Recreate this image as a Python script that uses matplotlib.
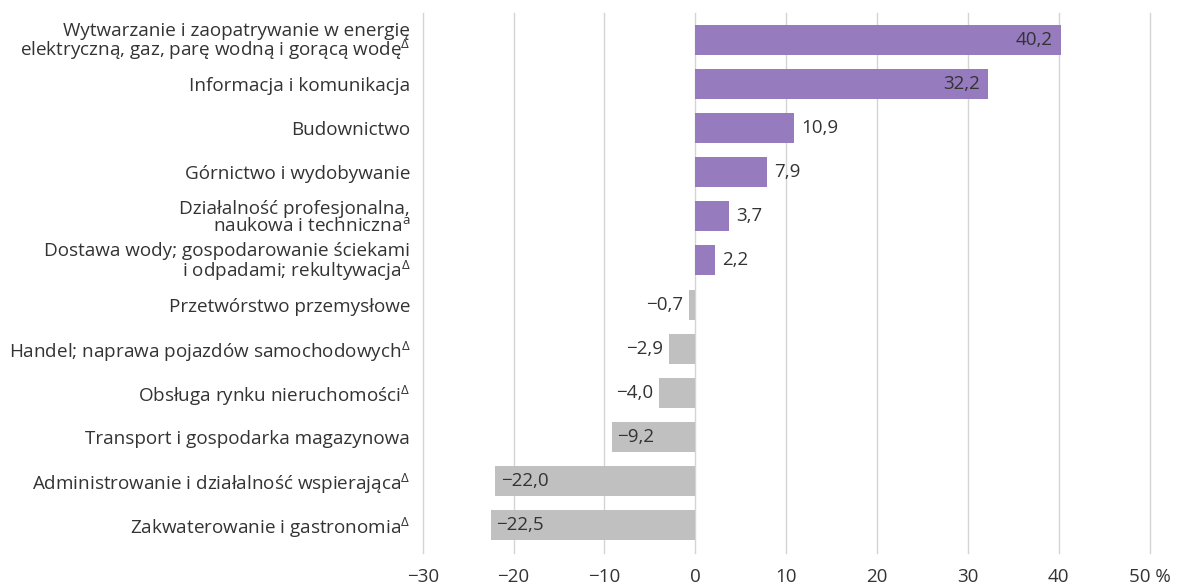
import matplotlib.pyplot as plt
import numpy as np

plt.rcParams['font.family'] = ['Open Sans', 'DejaVu Sans']
plt.rcParams['mathtext.fontset'] = 'custom'
plt.rcParams['mathtext.rm'] = 'Open Sans'
plt.rcParams['mathtext.it'] = 'Open Sans'

categories = [
    'Wytwarzanie i zaopatrywanie w energię\nelektryczną, gaz, parę wodną i gorącą wodę$^{\\Delta}$',
    'Informacja i komunikacja',
    'Budownictwo',
    'Górnictwo i wydobywanie',
    'Działalność profesjonalna,\nnaukowa i techniczna$^{\\mathrm{a}}$',
    'Dostawa wody; gospodarowanie ściekami\ni odpadami; rekultywacja$^{\\Delta}$',
    'Przetwórstwo przemysłowe',
    'Handel; naprawa pojazdów samochodowych$^{\\Delta}$',
    'Obsługa rynku nieruchomości$^{\\Delta}$',
    'Transport i gospodarka magazynowa',
    'Administrowanie i działalność wspierająca$^{\\Delta}$',
    'Zakwaterowanie i gastronomia$^{\\Delta}$',
]
values = [40.2, 32.2, 10.9, 7.9, 3.7, 2.2, -0.7, -2.9, -4.0, -9.2, -22.0, -22.5]
x_ticks = [-30, -20, -10, 0, 10, 20, 30, 40, 50]
x_tick_labels = ['−30', '−20', '−10', '0', '10', '20', '30', '40', '50 %']

purple = '#967bbf'
gray = '#c0c0c0'
text_color = '#333333'

fig = plt.figure(figsize=(11.84, 5.87), dpi=100)
ax = fig.add_axes([0.357, 0.058, 0.614, 0.920])

y = np.arange(len(values))
colors = [purple if v > 0 else gray for v in values]
ax.barh(y, values, height=0.68, color=colors, zorder=2)

# value labels: inside for long bars, outside for short ones
for yi, v in zip(y, values):
    label = f'{abs(v):.1f}'.replace('.', ',')
    if v < 0:
        label = '−' + label
    if v > 25:
        ax.text(v - 0.9, yi, label, ha='right', va='center', fontsize=13.5, color=text_color, zorder=3)
    elif v > 0:
        ax.text(v + 0.8, yi, label, ha='left', va='center', fontsize=13.5, color=text_color, zorder=3)
    elif v < -8:
        ax.text(v + 0.6, yi, label, ha='left', va='center', fontsize=13.5, color=text_color, zorder=3)
    else:
        ax.text(v - 0.6, yi, label, ha='right', va='center', fontsize=13.5, color=text_color, zorder=3)

ax.set_xlim(-30, 50)
ax.set_ylim(len(values) - 1 + 0.63, -0.61)
ax.set_xticks(x_ticks)
ax.set_xticklabels(x_tick_labels, fontsize=13.5, color=text_color)
ax.set_yticks(y)
ax.set_yticklabels(categories, fontsize=13.6, color=text_color)
for lbl in ax.get_yticklabels():
    lbl.set_linespacing(0.92)

ax.tick_params(axis='both', length=0)
ax.tick_params(axis='x', pad=11)
ax.tick_params(axis='y', pad=9)
ax.grid(True, axis='x', color='#d4d4d4', linewidth=1.0, zorder=0)
for gl in ax.get_xgridlines():
    gl.set_clip_on(False)
for s in ax.spines.values():
    s.set_visible(False)

fig.savefig('out.png', dpi=100)
